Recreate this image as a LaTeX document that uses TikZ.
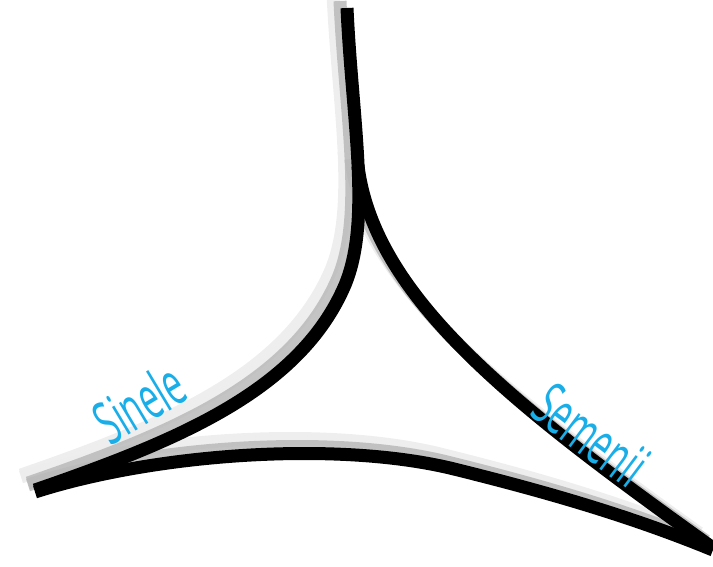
\documentclass[tikz,border=0pt]{standalone}
\usepackage{fontspec}
\newfontfamily\labelfont[FakeStretch=0.56]{Open Sans}
\definecolor{lblue}{HTML}{1AAEE8}
\begin{document}
\begin{tikzpicture}[x=1pt,y=-1pt,
  blackline/.style={line width=13pt,black},
  shadowa/.style={line width=13pt,color=black!7,opacity=0.95},
  shadowb/.style={line width=13pt,color=black!27,opacity=0.85},
  lbl/.style={text=lblue,font=\labelfont\fontsize{60}{60}\selectfont,inner sep=0pt}]
\useasboundingbox (0,0) rectangle (713,566);
% paths
\def\pathL{(347,8) .. controls (352,120) and (372,220) .. (345,285) .. controls (300,390) and (180,440) .. (35,490)}
\def\pathR{(358,166) .. controls (375,300) and (520,410) .. (713,548)}
\def\pathB{(35,492) .. controls (150,455) and (330,440) .. (450,468) .. controls (560,495) and (640,520) .. (713,550)}
% shadows light
\begin{scope}[shift={(-14,-15)}]
\draw[shadowa] \pathL; \draw[shadowa] \pathR; \draw[shadowa] \pathB;
\end{scope}
\begin{scope}[shift={(-7,-7)}]
\draw[shadowb] \pathL; \draw[shadowb] \pathR; \draw[shadowb] \pathB;
\end{scope}
\draw[blackline] \pathL;
\draw[blackline] \pathR;
\draw[blackline] \pathB;
\node[lbl,rotate=31] (sinele) at (139,403) {Sinele};
\node[lbl,rotate=-37] (semenii) at (591,435) {Semenii};
\end{tikzpicture}
\end{document}
